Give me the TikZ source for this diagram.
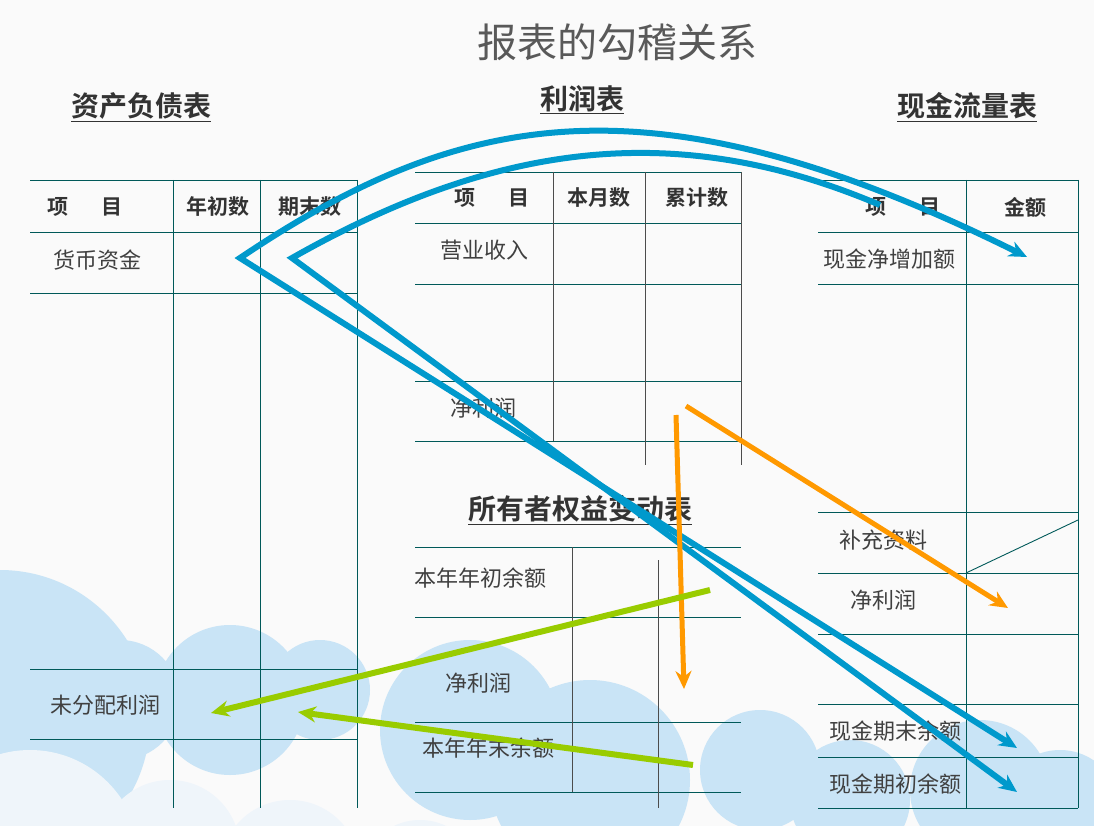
\documentclass[tikz,border=0pt]{standalone}
\usepackage{fontspec}
\usetikzlibrary{arrows.meta}
\newfontfamily\cjk{Noto Sans CJK SC}
\newfontfamily\cjkb{Noto Sans CJK SC Bold}
\definecolor{bl}{HTML}{0099CC}
\definecolor{gr}{HTML}{99CC00}
\definecolor{og}{HTML}{FF9900}
\begin{document}
\begin{tikzpicture}[x=1pt,y=-1pt,
  tl/.style={draw=teal!70!black,line width=0.9pt},
  txt/.style={font=\cjk\fontsize{22}{22}\selectfont,text=black!75,inner sep=0},
  hd/.style={font=\cjkb\fontsize{21}{21}\selectfont,text=black!80,inner sep=0},
  ttl/.style={font=\cjkb\fontsize{28}{28}\selectfont,text=black!80,inner sep=1pt},
  blu/.style={draw=bl,line width=6pt},
  tip/.style={-{Stealth[length=18pt,width=16pt]}},
  org/.style={draw=og,line width=5pt,tip},
  grn/.style={draw=gr,line width=6pt,tip}]
\useasboundingbox (0,0) rectangle (1094,826);
\fill[black!2] (0,0) rectangle (1094,826);
\definecolor{cl}{HTML}{C9E4F6}
\definecolor{cl2}{HTML}{EFF5FA}
\begin{scope}
\clip (0,0) rectangle (1094,826);
\foreach \x/\y/\r in {0/720/150,120/700/60,230/700/75,320/690/50,470/730/90,590/780/100,760/770/60,850/800/60,980/790/70,1060/810/60}
  \fill[cl] (\x,\y) circle (\r);
\foreach \x/\y/\r in {30/860/110,170/850/70,290/870/70,420/880/60}
  \fill[cl2] (\x,\y) circle (\r);
\end{scope}
\node[font=\cjk\fontsize{40}{40}\selectfont,text=black!65] (main) at (617,42) {报表的勾稽关系};
\node[ttl] (t1) at (141,107) {\underline{资产负债表}};
\node[ttl] (t2) at (582,100) {\underline{利润表}};
\node[ttl] (t3) at (967,107) {\underline{现金流量表}};
\node[ttl] (t4) at (580,510) {\underline{所有者权益变动表}};
% left table
\foreach \y in {180,232,293,669,739} \draw[tl] (30,\y) -- (357,\y);
\foreach \x in {173,260,357} \draw[tl] (\x,180) -- (\x,808);
\node[hd] (a1) at (85,207) {项\hspace{1.6em}目};
\node[hd] (a2) at (218,207) {年初数};
\node[hd] (a3) at (310,207) {期末数};
\node[txt] (a4) at (97,260) {货币资金};
\node[txt] (a5) at (105,705) {未分配利润};
% income table
\foreach \y in {172,223,284,381,441} \draw[tl] (415,\y) -- (741,\y);
\draw[draw=black!70,line width=0.7pt] (553,172) -- (553,441) (645,172) -- (645,465) (741,172) -- (741,465);
\node[hd] (b1) at (492,198) {项\hspace{1.6em}目};
\node[hd] (b2) at (599,198) {本月数};
\node[hd] (b3) at (697,198) {累计数};
\node[txt] (b4) at (484,250) {营业收入};
\node[txt] (b5) at (483,408) {净利润};
% equity table
\foreach \y in {547,617,722,792} \draw[tl] (415,\y) -- (741,\y);
\draw[draw=black!70,line width=0.7pt] (572,547) -- (572,792) (658,560) -- (658,808);
\node[txt] (c1) at (480,578) {本年年初余额};
\node[txt] (c2) at (478,683) {净利润};
\node[txt] (c3) at (488,748) {本年年末余额};
% cash table
\foreach \y in {180,232,284,512,573,634,704,757,808} \draw[tl] (818,\y) -- (1078,\y);
\foreach \x in {966,1078} \draw[tl] (\x,180) -- (\x,808);
\draw[tl] (966,573) -- (1078,520);
\node[hd] (d1) at (903,207) {项\hspace{1.6em}目};
\node[hd] (d2) at (1025,207) {金额};
\node[txt] (d3) at (889,259) {现金净增加额};
\node[txt] (d4) at (883,540) {补充资料};
\node[txt] (d5) at (883,600) {净利润};
\node[txt] (d6) at (895,731) {现金期末余额};
\node[txt] (d7) at (895,784) {现金期初余额};
% arrows
\coordinate (p1) at (240,258); \coordinate (p2) at (292,258);
\coordinate (e1) at (1017,748); \coordinate (e2) at (1017,792);
\coordinate (e3) at (1027,257);
\draw[blu,{Stealth[length=18pt,width=16pt]}-{Stealth[length=18pt,width=16pt]},line join=miter] (e1) -- (p1) .. controls (460,110) and (650,70) .. (e3);
\draw[blu,{Stealth[length=18pt,width=16pt]}-] (e2) -- (p2) .. controls (500,140) and (680,120) .. (880,205);
\coordinate (o1) at (676,415); \coordinate (o2) at (684,689);
\coordinate (o3) at (686,406); \coordinate (o4) at (1008,608);
\draw[org] (o1) -- (o2);
\draw[org] (o3) -- (o4);
\coordinate (g1) at (710,590); \coordinate (g2) at (211,713);
\coordinate (g3) at (693,765); \coordinate (g4) at (298,712);
\draw[grn] (g1) -- (g2);
\draw[grn] (g3) -- (g4);
\end{tikzpicture}
\end{document}
